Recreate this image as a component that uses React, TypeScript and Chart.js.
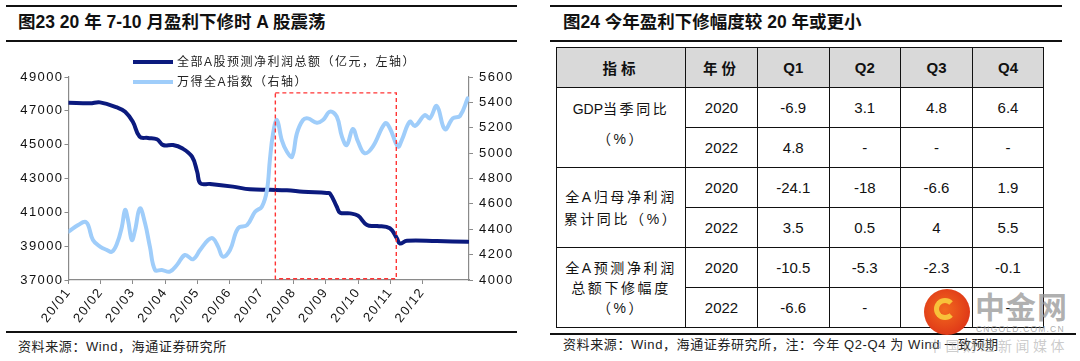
import React, { useEffect, useRef } from 'react';
import { Chart, registerables } from 'chart.js';

Chart.register(...registerables);

// ---------- chart data ----------
const monthLabels = ['20/01', '20/02', '20/03', '20/04', '20/05', '20/06', '20/07', '20/08', '20/09', '20/10', '20/11', '20/12'];
const seriesNames = ['全部A股预测净利润总额（亿元，左轴）', '万得全A指数（右轴）'];

// x = month position (0 = 20/01)
const profitMonths = [0, 0.67, 0.98, 1.51, 1.76, 2.0, 2.21, 2.47, 2.75, 2.94, 3.25, 3.53, 3.84, 4.0, 4.1, 4.4, 5.11, 5.64, 6.26, 6.79, 7.29, 8.03, 8.13, 8.34, 8.44, 8.75, 9.0, 9.28, 9.59, 9.99, 10.21, 10.3, 10.52, 11.45, 12.41];
const profitValues = [47480, 47445, 47500, 47200, 46950, 46360, 45470, 45400, 45320, 44980, 44980, 44790, 44290, 43400, 42710, 42680, 42520, 42360, 42330, 42300, 42220, 42140, 42110, 41330, 40980, 40940, 40800, 40250, 40190, 40060, 39460, 39160, 39320, 39300, 39260];

const indexMonths = [0, 0.3, 0.51, 0.61, 0.76, 0.98, 1.2, 1.35, 1.51, 1.66, 1.76, 1.85, 1.97, 2.07, 2.22, 2.38, 2.53, 2.69, 2.9, 3.15, 3.37, 3.62, 3.87, 4.09, 4.34, 4.49, 4.65, 4.8, 5.02, 5.27, 5.55, 5.8, 6.01, 6.17, 6.26, 6.36, 6.48, 6.63, 6.79, 6.95, 7.1, 7.29, 7.44, 7.72, 7.91, 8.13, 8.34, 8.5, 8.65, 8.84, 9.0, 9.21, 9.46, 9.84, 9.99, 10.24, 10.36, 10.61, 10.77, 11.08, 11.23, 11.45, 11.7, 11.95, 12.17, 12.41];
const indexValues = [4381, 4433, 4460, 4433, 4315, 4263, 4236, 4223, 4289, 4420, 4552, 4473, 4315, 4394, 4565, 4447, 4263, 4079, 4079, 4066, 4118, 4197, 4163, 4236, 4315, 4328, 4263, 4184, 4236, 4407, 4433, 4538, 4578, 4709, 4946, 5156, 5261, 5103, 5011, 4972, 5156, 5261, 5274, 5240, 5261, 5327, 5287, 5130, 5064, 5190, 5090, 4999, 5051, 5235, 5196, 5051, 5103, 5248, 5214, 5300, 5274, 5371, 5188, 5274, 5293, 5432];

const highlightMonths = [6.43, 10.19];
const highlightIndexRange = [4010, 5475];

// ---------- table data ----------
const tableHeader = ['指标', '年份', 'Q1', 'Q2', 'Q3', 'Q4'];
const indicatorNames = [['GDP|当季同比', '（%）'], ['全A归母净利润', '累计同比（%）'], ['全A预测净利润', '总额下修幅度', '（%）']];
const years = ['2020', '2022'];
const gdpValues = [['-6.9', '3.1', '4.8', '6.4'], ['4.8', '-', '-', '-']];
const profitYoYValues = [['-24.1', '-18', '-6.6', '1.9'], ['3.5', '0.5', '4', '5.5']];
const revisionValues = [['-10.5', '-5.3', '-2.3', '-0.1'], ['-6.6', '-', '-', '-']];

const DARK = '#0b1a7e';
const LIGHT = '#9fcdfa';
const AXIS = '#8a8a8a';
const LATIN = "'Liberation Sans', Arial, sans-serif";
const MIXED = "'Liberation Sans', 'Noto Sans CJK SC', sans-serif";
const CJK = "'Noto Sans CJK SC', sans-serif";

const overlayPlugin = {
  id: 'overlay',
  beforeLayout(chart: any) {
    chart.ctx.letterSpacing = '1.4px';
  },
  beforeDraw(chart: any) {
    chart.ctx.letterSpacing = '1.4px';
  },
  afterDatasetsDraw(chart: any) {
    const { ctx, scales } = chart;
    const l = scales.x.getPixelForValue(highlightMonths[0]);
    const r = scales.x.getPixelForValue(highlightMonths[1]);
    const t = scales.yIndex.getPixelForValue(highlightIndexRange[1]);
    const b = scales.yIndex.getPixelForValue(highlightIndexRange[0]);
    ctx.save();
    ctx.strokeStyle = '#ff3434';
    ctx.lineWidth = 1.4;
    ctx.setLineDash([4, 3]);
    ctx.strokeRect(l, t, r - l, b - t);
    ctx.restore();
  },
  afterDraw(chart: any) {
    const { ctx } = chart;
    ctx.save();
    const items = [...chart.data.datasets].reverse();
    items.forEach((ds: any, i: number) => {
      const yy = 62 + i * 20;
      ctx.beginPath();
      ctx.moveTo(133, yy);
      ctx.lineTo(173, yy);
      ctx.strokeStyle = ds.borderColor;
      ctx.lineWidth = 4;
      ctx.stroke();
      ctx.font = `12px ${MIXED}`;
      ctx.letterSpacing = '1.5px';
      ctx.fillStyle = '#222';
      ctx.textBaseline = 'middle';
      ctx.textAlign = 'left';
      ctx.fillText(ds.label, 177, yy + 0.5);
    });
    ctx.restore();
  },
};

function LineChart() {
  const ref = useRef<HTMLCanvasElement | null>(null);
  useEffect(() => {
    if (!ref.current) return;
    const chart = new Chart(ref.current, {
      type: 'line',
      data: {
        datasets: [
          {
            label: seriesNames[1],
            data: indexMonths.map((m, i) => ({ x: m, y: indexValues[i] })),
            borderColor: LIGHT,
            borderWidth: 4,
            pointRadius: 0,
            tension: 0.4,
            yAxisID: 'yIndex',
            borderCapStyle: 'round',
            borderJoinStyle: 'round',
          },
          {
            label: seriesNames[0],
            data: profitMonths.map((m, i) => ({ x: m, y: profitValues[i] })),
            borderColor: DARK,
            borderWidth: 4,
            pointRadius: 0,
            tension: 0.4,
            yAxisID: 'yProfit',
            borderCapStyle: 'round',
            borderJoinStyle: 'round',
          },
        ],
      },
      options: {
        animation: false,
        responsive: false,
        layout: { padding: { left: 0, right: 0, top: 77, bottom: 0 } },
        plugins: { legend: { display: false }, tooltip: { enabled: false } },
        scales: {
          x: {
            type: 'linear',
            min: 0,
            max: 12.45,
            afterBuildTicks: (scale: any) => {
              scale.ticks = monthLabels.map((_, i) => ({ value: i }));
            },
            afterFit: (scale: any) => {
              scale.height = 50;
            },
            ticks: {
              autoSkip: false,
              minRotation: 52,
              maxRotation: 52,
              padding: 1,
              color: '#111',
              font: { family: LATIN, size: 13 },
              callback: (v: any) => monthLabels[v] ?? '',
            },
            grid: { display: true, drawOnChartArea: false, drawTicks: true, tickLength: 4, color: AXIS, lineWidth: 1 },
            border: { display: true, color: AXIS, width: 1.2 },
          },
          yProfit: {
            type: 'linear',
            position: 'left',
            min: 37000,
            max: 49000,
            afterFit: (scale: any) => {
              scale.width = 68.5;
            },
            ticks: { stepSize: 2000, padding: 1, color: '#111', font: { family: LATIN, size: 13 }, callback: (v: any) => String(v) },
            grid: { display: true, drawOnChartArea: false, drawTicks: true, tickLength: 4, color: AXIS },
            border: { display: true, color: AXIS, width: 1.2 },
          },
          yIndex: {
            type: 'linear',
            position: 'right',
            min: 4000,
            max: 5600,
            afterFit: (scale: any) => {
              scale.width = 71;
            },
            ticks: { stepSize: 200, padding: 6, color: '#111', font: { family: LATIN, size: 13 }, callback: (v: any) => String(v) },
            grid: { display: true, drawOnChartArea: false, drawTicks: true, tickLength: 4, color: AXIS },
            border: { display: true, color: AXIS, width: 1.2 },
          },
        },
      },
      plugins: [overlayPlugin],
    } as any);
    return () => chart.destroy();
  }, []);
  return (
    <canvas
      ref={ref}
      width={540}
      height={330}
      style={{ position: 'absolute', left: 0, top: 0, width: 540, height: 330 }}
    />
  );
}

const rule = (left: number, top: number, width: number, h = 2) => (
  <div style={{ position: 'absolute', left, top, width, height: h, background: '#111' }} />
);

const cellBorder = '1.5px solid #111';
const colWidths = [129, 72, 71.5, 71.5, 72, 71];

function renderName(t: string) {
  if (t.includes('|')) {
    const [latin, rest] = t.split('|');
    return (
      <>
        <span style={{ letterSpacing: 0 }}>{latin}</span>
        <span>{rest}</span>
      </>
    );
  }
  return t;
}

function DataTable() {
  const groups = [gdpValues, profitYoYValues, revisionValues];
  const lineHeights = [30, 22, 20];
  const td: React.CSSProperties = {
    border: cellBorder,
    textAlign: 'center',
    verticalAlign: 'middle',
    padding: 0,
    fontFamily: LATIN,
    fontSize: 15,
    color: '#111',
  };
  return (
    <table
      style={{
        position: 'absolute',
        left: 556,
        top: 47,
        borderCollapse: 'collapse',
        tableLayout: 'fixed',
        width: colWidths.reduce((a, b) => a + b, 0),
      }}
    >
      <colgroup>
        {colWidths.map((w, i) => (
          <col key={i} style={{ width: w }} />
        ))}
      </colgroup>
      <tbody>
        <tr style={{ height: 40 }}>
          {tableHeader.map((h, i) => (
            <td
              key={i}
              style={{
                ...td,
                background: '#d9d9d9',
                fontWeight: 'bold',
                fontFamily: i < 2 ? CJK : LATIN,
                letterSpacing: i < 2 ? 4 : 0,
                fontSize: i < 2 ? 14.5 : 15,
              }}
            >
              {h}
            </td>
          ))}
        </tr>
        {groups.map((g, gi) =>
          g.map((row, ri) => (
            <tr key={`${gi}-${ri}`} style={{ height: 40 }}>
              {ri === 0 && (
                <td
                  rowSpan={2}
                  style={{
                    ...td,
                    fontFamily: MIXED,
                    fontSize: 14,
                    letterSpacing: 2.6,
                    lineHeight: `${lineHeights[gi]}px`,
                    paddingBottom: gi === 0 ? 8 : 0,
                  }}
                >
                  {indicatorNames[gi].map((t, k) => (
                    <div key={k}>{renderName(t)}</div>
                  ))}
                </td>
              )}
              <td style={td}>{years[ri]}</td>
              {row.map((v, k) => (
                <td key={k} style={td}>
                  {v}
                </td>
              ))}
            </tr>
          ))
        )}
      </tbody>
    </table>
  );
}

function Watermark() {
  return (
    <>
      <div
        style={{
          position: 'absolute',
          left: 924,
          top: 289,
          width: 46,
          height: 46,
          borderRadius: '50%',
          background: 'radial-gradient(circle at 45% 45%, #f26a1e 0%, #e03a18 70%, #d2301a 100%)',
        }}
      >
        <div
          style={{
            position: 'absolute',
            left: 10,
            top: 9,
            width: 22,
            height: 22,
            borderRadius: '50%',
            border: '5px solid #f8c23a',
            borderRightColor: 'transparent',
            boxSizing: 'border-box',
          }}
        />
      </div>
      <div
        style={{
          position: 'absolute',
          left: 975,
          top: 288,
          fontFamily: CJK,
          fontWeight: 'bold',
          fontSize: 30,
          lineHeight: '34px',
          color: 'rgba(150,150,150,0.75)',
          letterSpacing: 1,
        }}
      >
        中金网
      </div>
      <div
        style={{
          position: 'absolute',
          left: 976,
          top: 324,
          fontFamily: LATIN,
          fontSize: 8.5,
          color: 'rgba(150,150,150,0.8)',
          letterSpacing: 1.2,
        }}
      >
        CNGOLD.COM.CN
      </div>
      <div
        style={{
          position: 'absolute',
          left: 928,
          top: 335,
          fontFamily: CJK,
          fontSize: 14,
          color: 'rgba(160,160,160,0.55)',
          letterSpacing: 3.5,
        }}
      >
        中国财经新闻媒体
      </div>
    </>
  );
}

export default function App() {
  const titleStyle: React.CSSProperties = {
    position: 'absolute',
    top: 12,
    fontFamily: MIXED,
    fontWeight: 'bold',
    fontSize: 17.5,
    lineHeight: '20px',
    color: '#111',
    whiteSpace: 'nowrap',
  };
  const srcStyle: React.CSSProperties = {
    position: 'absolute',
    fontFamily: MIXED,
    fontSize: 13,
    lineHeight: '16px',
    color: '#222',
    whiteSpace: 'nowrap',
    letterSpacing: 0.6,
  };
  return (
    <div style={{ position: 'absolute', left: 0, top: 0, width: 1080, height: 361, background: '#fff', overflow: 'hidden' }}>
      {rule(6, 5, 511)}
      {rule(6, 40, 511)}
      <div style={{ ...titleStyle, left: 18 }}>图23 20 年 7-10 月盈利下修时 A 股震荡</div>
      <LineChart />
      {rule(6, 331, 511)}
      <div style={{ ...srcStyle, left: 18, top: 339 }}>资料来源：Wind，海通证券研究所</div>

      {rule(550, 5, 512)}
      {rule(550, 39.5, 512)}
      <div style={{ ...titleStyle, left: 563 }}>图24 今年盈利下修幅度较 20 年或更小</div>
      <DataTable />
      {rule(550, 332.5, 526)}
      <div style={{ ...srcStyle, left: 563, top: 337 }}>资料来源：Wind，海通证券研究所，注：今年 Q2-Q4 为 Wind 一致预期</div>
      <Watermark />
    </div>
  );
}
